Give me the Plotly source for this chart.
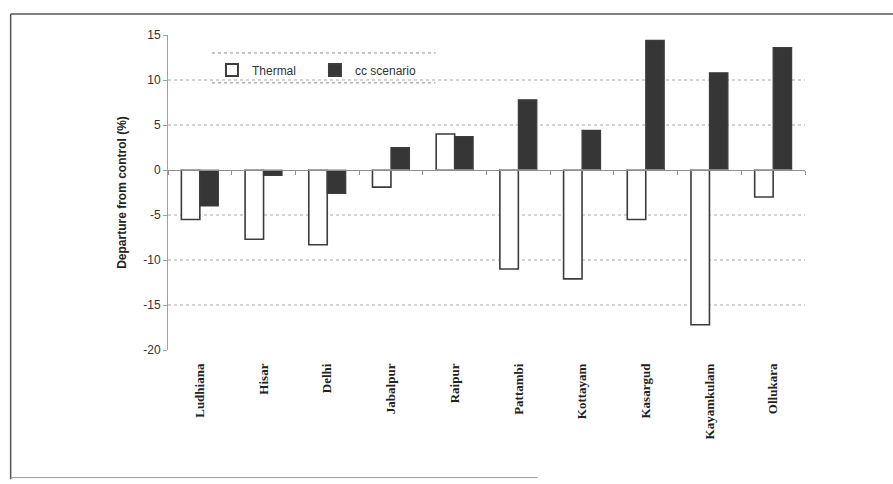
import plotly.graph_objects as go

# Station-wise departure from control (%)
stations = ["Ludhiana", "Hisar", "Delhi", "Jabalpur", "Raipur",
            "Pattambi", "Kottayam", "Kasargud", "Kayamkulam", "Ollukara"]
thermal = [-5.5, -7.7, -8.3, -1.9, 4.0, -11.0, -12.1, -5.5, -17.2, -3.0]
cc_scenario = [-4.0, -0.6, -2.6, 2.5, 3.7, 7.8, 4.4, 14.4, 10.8, 13.6]

y_ticks = [-20, -15, -10, -5, 0, 5, 10, 15]
y_tick_text = ["-20", "-15", "-10", "-5", "0", "5", "10", "15"]
grid_levels = [-15, -10, -5, 5, 10]

y_min, y_max = -20, 15

fig = go.Figure()
fig.add_trace(go.Bar(
    name="Thermal", x=stations, y=thermal,
    marker=dict(color="white", line=dict(color="#3c3c3c", width=1.6)),
))
fig.add_trace(go.Bar(
    name="cc scenario", x=stations, y=cc_scenario,
    marker=dict(color="#363636", line=dict(color="#3c3c3c", width=1.2)),
))

# dotted horizontal grid
for g in grid_levels:
    fig.add_shape(type="line", xref="paper", yref="y", x0=0, x1=1, y0=g, y1=g,
                  line=dict(color="#a8a8a8", width=1, dash="dot"), layer="below")

# legend frame: dotted rules above and below
for yy in (0.943, 0.848):
    fig.add_shape(type="line", xref="paper", yref="paper", x0=0.069, x1=0.42,
                  y0=yy, y1=yy, line=dict(color="#8a8a8a", width=1, dash="dot"))

zero_pos = (0 - y_min) / (y_max - y_min)

fig.update_layout(
    width=893, height=484,
    margin=dict(l=168, r=88, t=35, b=134),
    paper_bgcolor="white", plot_bgcolor="white",
    barmode="group", bargap=0.42, bargroupgap=0.0,
    font=dict(family="Liberation Sans, Arial, sans-serif", color="#333333", size=12),
    showlegend=True,
    legend=dict(orientation="h", x=0.069, y=0.935, xanchor="left", yanchor="top",
                bgcolor="rgba(0,0,0,0)", font=dict(size=12, color="#333333"),
                entrywidth=58, entrywidthmode="pixels", itemsizing="constant"),
    xaxis=dict(
        type="category", showgrid=False, showline=False, zeroline=False,
        tickangle=-90, ticks="", ticklabelstandoff=10,
        tickfont=dict(family="Liberation Serif, Times New Roman, serif",
                      size=13, color="#222222", weight="bold"),
    ),
    xaxis2=dict(
        overlaying="x", matches="x", anchor="free", position=zero_pos,
        type="category", showline=True, linecolor="#8f8f8f", linewidth=1,
        ticks="outside", ticklen=4, tickcolor="#8f8f8f", tickson="boundaries",
        showticklabels=False, showgrid=False, zeroline=False,
    ),
    yaxis=dict(
        range=[y_min, y_max], tickvals=y_ticks, ticktext=y_tick_text,
        showgrid=False, zeroline=False,
        showline=True, linecolor="#a0a0a0", linewidth=1,
        ticks="outside", ticklen=4, tickcolor="#a0a0a0",
        tickfont=dict(size=12, color="#333333"),
        title=dict(text="Departure from control (%)",
                   font=dict(size=12, color="#222222", weight="bold"), standoff=14),
    ),
)

# invisible trace on the overlay axis so the zero-line ticks are drawn
fig.add_trace(go.Bar(x=stations, y=[0] * len(stations), xaxis="x2",
                     showlegend=False, hoverinfo="skip",
                     marker=dict(color="rgba(0,0,0,0)")))

# outer frame
fig.add_shape(type="line", xref="paper", yref="paper",
              x0=-0.247, x1=1.14, y0=1.067, y1=1.067,
              line=dict(color="#555555", width=1.5))
fig.add_shape(type="line", xref="paper", yref="paper",
              x0=-0.247, x1=-0.247, y0=1.067, y1=-0.41,
              line=dict(color="#555555", width=1.5))
fig.add_shape(type="line", xref="paper", yref="paper",
              x0=-0.247, x1=0.58, y0=-0.405, y1=-0.405,
              line=dict(color="#9a9a9a", width=1))

fig.write_html("out.html")
